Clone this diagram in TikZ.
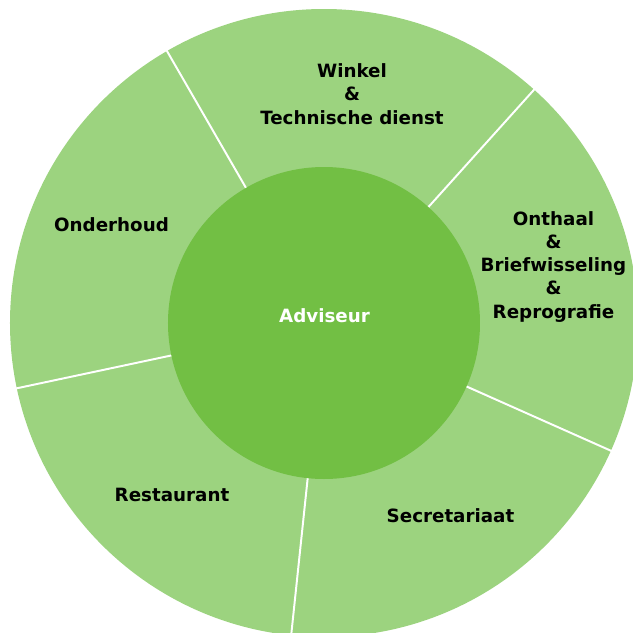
\documentclass[tikz,border=0pt]{standalone}
\usepackage{fontspec}
\setmainfont{DejaVu Sans}
\definecolor{ringgreen}{HTML}{9CD37F}
\definecolor{coregreen}{HTML}{72BF44}
\tikzset{
  sectortext/.style={font=\bfseries\fontsize{13}{16.4}\selectfont,
    align=center, anchor=base, inner sep=0pt},
}
\begin{document}
\begin{tikzpicture}[x=0.025cm,y=0.025cm]
  \useasboundingbox (-324,-310) rectangle (309,323);
  \clip (-324,-310) rectangle (309,323);
  \fill[ringgreen] (0,0) circle (314);
  \foreach \a in {48,120,...,336}
    \draw[white,line width=1.4pt] (\a:150) -- (\a:320);
  \fill[coregreen] (0,0) circle (156);
  \path (0.5,1) node[sectortext,text=white] (adviseur) {Adviseur};
  \path (28,199) node[sectortext] (winkel) {Winkel\\\&\\Technische dienst};
  \path (229.5,5) node[sectortext] (onthaal)
    {Onthaal\\\&\\Briefwisseling\\\&\\Reprografie};
  \path (-212.5,92) node[sectortext] (onderhoud) {Onderhoud};
  \path (-152,-178) node[sectortext] (restaurant) {Restaurant};
  \path (126.5,-199) node[sectortext] (secretariaat) {Secretariaat};
\end{tikzpicture}
\end{document}
